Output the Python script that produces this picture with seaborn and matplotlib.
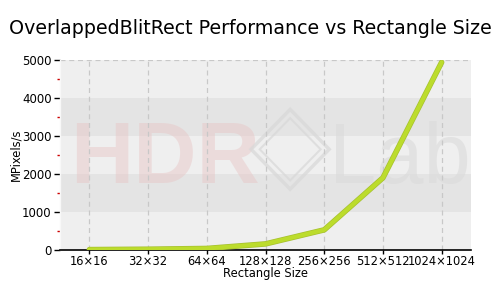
import matplotlib
matplotlib.use("Agg")
import matplotlib.pyplot as plt
import matplotlib.patheffects as pe
from matplotlib.patches import Polygon
from matplotlib.ticker import MultipleLocator
import seaborn as sns
import pandas as pd

sizes = ["16\u00d716", "32\u00d732", "64\u00d764", "128\u00d7128", "256\u00d7256", "512\u00d7512", "1024\u00d71024"]
mpixels = [10, 20, 40, 160, 530, 1900, 4940]

sns.set_style("white")
plt.rcParams['font.family'] = ['DejaVu Sans']
plt.rcParams['text.color'] = 'black'
plt.rcParams['axes.labelcolor'] = 'black'
plt.rcParams['xtick.color'] = 'black'
plt.rcParams['ytick.color'] = 'black'

df = pd.DataFrame({"size": sizes, "mpix": mpixels})

fig = plt.figure(figsize=(5, 3), dpi=100)
ax = fig.add_axes([0.12, 0.1667, 0.822, 0.6333])
ax.set_facecolor("#efefef")

for lo, hi in [(1000, 2000), (3000, 4000)]:
    ax.axhspan(lo, hi, color="#e4e4e4", lw=0, zorder=0)

# watermark
ax.text(0.025, 0.35, "HDR", transform=ax.transAxes, fontsize=63, fontweight="bold",
        family="Liberation Sans", color="#e8c4c4", alpha=0.45, zorder=0.5, va="baseline")
ax.text(0.655, 0.35, "Lab", transform=ax.transAxes, fontsize=61,
        family="Liberation Sans", color="#dadada", alpha=0.6, zorder=0.5, va="baseline")
cx, cy, hw, hh = 0.56, 0.53, 0.095, 0.21
for k, lw in [(1.0, 2.5), (0.78, 1.5)]:
    ax.add_patch(Polygon([(cx - hw * k, cy), (cx, cy + hh * k), (cx + hw * k, cy), (cx, cy - hh * k)],
                         closed=True, transform=ax.transAxes, fill=False,
                         edgecolor="#d8d8d8", lw=lw, alpha=0.7, zorder=0.5))

for i in range(len(sizes)):
    ax.axvline(i, color="#c8c8c8", lw=0.9, ls=(0, (4, 3)), zorder=1)
ax.axhline(5000, color="#c8c8c8", lw=0.9, ls=(0, (4, 3)), zorder=1)

sns.lineplot(data=df, x="size", y="mpix", ax=ax, sort=False, color="#bcdc2c", lw=3,
             zorder=3, path_effects=[pe.Stroke(linewidth=4, foreground="#a6c030"), pe.Normal()])

ax.set_xlim(-0.5, len(sizes) - 0.5)
ax.set_ylim(0, 5000)
ax.yaxis.set_major_locator(MultipleLocator(1000))
ax.yaxis.set_minor_locator(MultipleLocator(500))
ax.tick_params(axis="y", which="major", length=4, width=1, color="black", labelsize=8.5, pad=2, left=True)
ax.tick_params(axis="y", which="minor", length=2, width=1, color="#cc0000", left=True)
ax.tick_params(axis="x", which="major", length=3, width=1, color="black", labelsize=8.3, pad=0.5, bottom=True)

for s in ["top", "right"]:
    ax.spines[s].set_visible(False)
ax.spines["left"].set_color("#f8f8f8")
ax.spines["left"].set_linewidth(1)
ax.spines["bottom"].set_color("black")
ax.spines["bottom"].set_linewidth(1.2)

ax.set_xlabel("Rectangle Size", fontsize=8.3, labelpad=-0.5)
ax.set_ylabel("MPixels/s", fontsize=8.3, labelpad=0)
fig.suptitle("OverlappedBlitRect Performance vs Rectangle Size", fontsize=13.7, y=0.935)

fig.savefig("out.png", dpi=100)
